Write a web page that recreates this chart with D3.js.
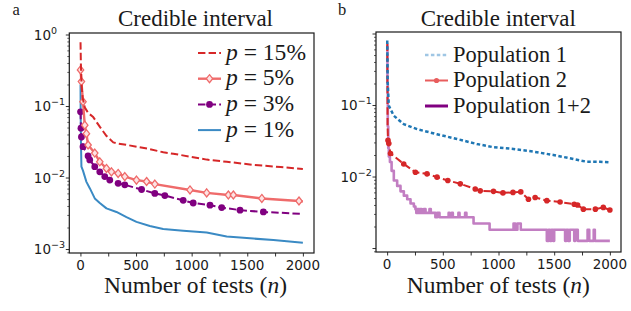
<!DOCTYPE html>
<html>
<head>
<meta charset="utf-8">
<script src="https://cdn.jsdelivr.net/npm/d3@7"></script>
<style>
	body { margin: 0; background: #fff; }
	svg { display: block; }
</style>
</head>
<body>
<div class="chart"></div>
<script>
// panel a: credible interval width for different prevalences p
const n15 = [1, 4, 10, 20, 40, 70, 115, 175, 235, 295, 330, 420, 505, 600, 745, 835, 985, 1135, 1315, 1560, 1800, 2000];
const v15 = [0.78, 0.4, 0.2, 0.13, 0.095, 0.08, 0.07, 0.051, 0.038, 0.031, 0.030, 0.0285, 0.027, 0.0255, 0.0225, 0.0215, 0.0196, 0.0178, 0.0166, 0.015, 0.014, 0.0132];

const n5 = [1, 9, 23, 39, 54, 69, 129, 174, 234, 279, 339, 399, 504, 595, 669, 985, 1135, 1330, 1375, 1631, 1965, 2000];
const v5 = [0.32, 0.22, 0.115, 0.054, 0.041, 0.0285, 0.022, 0.0166, 0.0134, 0.012, 0.0114, 0.0103, 0.0092, 0.0088, 0.0081, 0.0067, 0.0061, 0.0057, 0.0057, 0.0051, 0.0047, 0.0046];

const n3 = [1, 5, 9, 23, 69, 84, 129, 174, 219, 264, 339, 399, 550, 669, 759, 924, 1014, 1165, 1270, 1435, 1645, 2000];
const v3 = [0.083, 0.049, 0.037, 0.027, 0.020, 0.0176, 0.0142, 0.012, 0.0103, 0.0092, 0.0083, 0.0079, 0.0068, 0.006, 0.0056, 0.0048, 0.0044, 0.0041, 0.0038, 0.0035, 0.0033, 0.0031];

const n1 = [1, 2, 5, 9, 23, 54, 84, 129, 174, 234, 324, 414, 504, 624, 744, 924, 1135, 1315, 1555, 1735, 2000];
const v1 = [0.2, 0.08, 0.03, 0.0142, 0.0125, 0.0087, 0.0071, 0.0051, 0.0044, 0.0037, 0.0033, 0.0028, 0.0024, 0.0021, 0.0019, 0.0018, 0.0017, 0.0015, 0.0014, 0.00134, 0.00122];

// panel b: two populations and the pooled one
const nPop1 = [1, 5, 15, 59, 149, 269, 448, 627, 806, 955, 1134, 1314, 1493, 1672, 1792, 1912, 2000];
const vPop1 = [0.8, 0.2, 0.098, 0.071, 0.054, 0.046, 0.039, 0.0335, 0.0285, 0.0257, 0.0243, 0.0223, 0.020, 0.0176, 0.0161, 0.0161, 0.0158];

const nPop2 = [1, 4, 8, 15, 30, 149, 254, 358, 448, 545, 657, 791, 836, 955, 1040, 1130, 1200, 1269, 1329, 1434, 1553, 1680, 1710, 1762, 1870, 1941, 2000];
const vPop2 = [0.72, 0.05, 0.032, 0.029, 0.021, 0.015, 0.0115, 0.0109, 0.0098, 0.0088, 0.0079, 0.0067, 0.0063, 0.0062, 0.0059, 0.006, 0.0061, 0.0048, 0.0051, 0.0046, 0.0044, 0.0041, 0.004, 0.0035, 0.0035, 0.0037, 0.0034];

const nPop12 = [1, 3, 6, 10, 15, 25, 40, 60, 90, 120, 150, 180, 210, 240,
	254, 262, 270, 285, 295, 310, 330, 345, 380, 392, 433, 450, 470, 552, 560, 580, 590, 640, 650, 700, 712, 776,
	920, 1135, 1150, 1170, 1200, 1434, 1450, 1462, 1475, 1490, 1500,
	1598, 1610, 1625, 1640, 1680, 1690, 1712, 1800, 1815, 1855, 1865, 2000];
const vPop12 = [0.7, 0.2, 0.05, 0.025, 0.019, 0.016, 0.012, 0.0088, 0.0074, 0.0062, 0.0054, 0.0048, 0.0042, 0.0038,
	0.0035, 0.0031, 0.0035, 0.0031, 0.0035, 0.0031, 0.0035, 0.0031, 0.0035, 0.0031, 0.0027, 0.0031, 0.0027, 0.0031, 0.0027, 0.0031, 0.0027, 0.0031, 0.0027, 0.0031, 0.0027, 0.0022,
	0.0018, 0.0022, 0.0018, 0.0022, 0.0018, 0.00126, 0.0018, 0.00126, 0.0018, 0.00126, 0.0018,
	0.00126, 0.0018, 0.00126, 0.0018, 0.00126, 0.0018, 0.00126, 0.0018, 0.00126, 0.0018, 0.00126, 0.00126];

const xTicks = [0, 250, 500, 750, 1000, 1250, 1500, 1750, 2000];
const xLabelTicks = [0, 500, 1000, 1500, 2000];
const yExpA = [0, -1, -2, -3];
const yExpB = [-1, -2];
const legendA = ['15%', '5%', '3%', '1%'];
const legendB = ['Population 1', 'Population 2', 'Population 1+2'];

const w = 631;
const h = 311;
const serif = "Liberation Serif, DejaVu Serif, serif";
const sans = "DejaVu Sans, sans-serif";
const ink = '#1a1a1a';

const svg = d3.select('.chart').append('svg').attr('width', w).attr('height', h);

function zip(ns, vs) {
	return ns.map((n, i) => [n, vs[i]]);
}

// scale a serif text so its width matches what the figure shows
function fit(t, target) {
	let fs = parseFloat(t.attr('font-size'));
	let len = t.node().getComputedTextLength();
	if (len > 0) t.attr('font-size', (fs * target / len).toFixed(2) + 'px');
	return fs * target / len;
}

function diamond(g, x, y, col) {
	g.append('path')
		.attr('d', `M${x},${y - 4}L${x + 3.2},${y}L${x},${y + 4}L${x - 3.2},${y}Z`)
		.attr('fill', '#fde3e3')
		.attr('stroke', col)
		.attr('stroke-width', 1.3);
}

function dot(g, x, y, col, r) {
	g.append('circle').attr('cx', x).attr('cy', y).attr('r', r).attr('fill', col);
}

function panel(box, id) {
	const g = svg.append('g');
	const x = d3.scaleLinear().domain([-100, 2100]).range([box.left, box.right]);
	const y = d3.scaleLog().domain([8.8e-4, 1.05]).range([box.bottom, box.top]);

	g.append('clipPath').attr('id', 'clip' + id)
		.append('rect')
		.attr('x', box.left).attr('y', box.top)
		.attr('width', box.right - box.left).attr('height', box.bottom - box.top);

	// x axis
	const xa = g.append('g')
		.attr('transform', 'translate(0,' + box.bottom + ')')
		.call(d3.axisBottom(x).tickValues(xTicks).tickSize(3.5).tickSizeOuter(0).tickFormat(''));
	xa.select('.domain').remove();
	xa.selectAll('line').attr('stroke', ink).attr('stroke-width', 0.9);
	g.selectAll('.xl' + id)
		.data(xLabelTicks)
		.enter()
		.append('text')
		.attr('x', (d) => x(d))
		.attr('y', box.bottom + 17)
		.attr('text-anchor', 'middle')
		.attr('font-family', sans)
		.attr('font-size', '13.5px')
		.attr('fill', ink)
		.text((d) => d);

	// y axis: major + minor ticks
	let minor = [];
	for (let e = -4; e <= 0; e++) {
		for (let k = 2; k <= 9; k++) {
			let v = k * Math.pow(10, e);
			if (v >= 8.8e-4 && v <= 1.05) minor.push(v);
		}
	}
	let major = [1, 0.1, 0.01, 0.001];
	const ya = g.append('g')
		.attr('transform', 'translate(' + box.left + ',0)')
		.call(d3.axisLeft(y).tickValues(major).tickSize(3.5).tickSizeOuter(0).tickFormat(''));
	ya.select('.domain').remove();
	ya.selectAll('line').attr('stroke', ink).attr('stroke-width', 0.9);
	const ym = g.append('g')
		.attr('transform', 'translate(' + box.left + ',0)')
		.call(d3.axisLeft(y).tickValues(minor).tickSize(2).tickSizeOuter(0).tickFormat(''));
	ym.select('.domain').remove();
	ym.selectAll('line').attr('stroke', ink).attr('stroke-width', 0.7);

	box.exps.forEach((e) => {
		let t = g.append('text')
			.attr('x', box.left - 35.5)
			.attr('y', y(Math.pow(10, e)) + 5)
			.attr('font-family', sans)
			.attr('font-size', '13.5px')
			.attr('fill', ink);
		t.append('tspan').text('10');
		t.append('tspan')
			.attr('dy', -6)
			.attr('font-size', '9.5px')
			.text(e < 0 ? '\u2212' + -e : '' + e);
	});

	// frame
	g.append('rect')
		.attr('x', box.left).attr('y', box.top)
		.attr('width', box.right - box.left).attr('height', box.bottom - box.top)
		.attr('fill', 'none')
		.attr('stroke', ink)
		.attr('stroke-width', 1.2);

	// title, panel letter, x label
	let tt = g.append('text')
		.attr('x', box.titleX).attr('y', 26)
		.attr('text-anchor', 'middle')
		.attr('font-family', serif)
		.attr('font-size', '20px')
		.attr('fill', ink)
		.text('Credible interval');
	fit(tt, 155);
	g.append('text')
		.attr('x', box.letterX).attr('y', 15)
		.attr('font-family', serif)
		.attr('font-size', '16.5px')
		.attr('fill', ink)
		.text(box.letter);
	let xl = g.append('text')
		.attr('x', box.titleX).attr('y', 293)
		.attr('text-anchor', 'middle')
		.attr('font-family', serif)
		.attr('font-size', '20px')
		.attr('fill', ink);
	xl.append('tspan').text('Number of tests (');
	xl.append('tspan').attr('font-style', 'italic').text('n');
	xl.append('tspan').text(')');
	fit(xl, 183);

	return { g: g, x: x, y: y, clip: 'url(#clip' + id + ')' };
}

function series(p, ns, vs, st) {
	const pts = zip(ns, vs);
	const line = d3.line()
		.x((d) => p.x(d[0]))
		.y((d) => p.y(d[1]))
		.curve(st.step ? d3.curveStepAfter : d3.curveLinear);
	const layer = p.g.append('g').attr('clip-path', p.clip);
	layer.append('path')
		.datum(pts)
		.attr('d', line)
		.attr('fill', 'none')
		.attr('stroke', st.color)
		.attr('stroke-width', st.width)
		.attr('stroke-dasharray', st.dash || null)
		.attr('stroke-linejoin', 'round');
	if (st.marker) {
		pts.forEach((d, i) => {
			if (i < st.markFrom || i > pts.length - 1 - st.markSkipEnd) return;
			if (st.marker == 'diamond') diamond(layer, p.x(d[0]), p.y(d[1]), st.color);
			else dot(layer, p.x(d[0]), p.y(d[1]), st.color, st.r);
		});
	}
}

// legend text scaled so the widest entry matches the reference width
function legend(p, x0, y0, dy, items, widest, widestIdx) {
	let texts = [];
	items.forEach((it, i) => {
		let yy = y0 + i * dy;
		p.g.append('line')
			.attr('x1', x0).attr('x2', x0 + 23)
			.attr('y1', yy).attr('y2', yy)
			.attr('stroke', it.color)
			.attr('stroke-width', it.width)
			.attr('stroke-dasharray', it.dash || null);
		if (it.marker == 'diamond') diamond(p.g, x0 + 11.5, yy, it.color);
		if (it.marker == 'dot') dot(p.g, x0 + 11.5, yy, it.color, it.r);
		let t = p.g.append('text')
			.attr('x', x0 + 28).attr('y', yy + 6.5)
			.attr('font-family', serif)
			.attr('font-size', '20px')
			.attr('fill', ink);
		if (it.p) {
			t.append('tspan').attr('font-style', 'italic').text('p');
			t.append('tspan').text(' = ' + it.label);
		} else {
			t.text(it.label);
		}
		texts.push(t);
	});
	let fs = fit(texts[widestIdx], widest);
	texts.forEach((t) => t.attr('font-size', fs.toFixed(2) + 'px'));
}

// ---- panel a
const pa = panel({ left: 69.3, right: 314, top: 33, bottom: 253, letter: 'a', letterX: 12.5, titleX: 195.5, exps: yExpA }, 'a');

const stA = [
	{ color: '#d62728', width: 2, dash: '7.4,3.2' },
	{ color: '#ef6b6b', width: 2.4, marker: 'diamond', markFrom: 0, markSkipEnd: 1 },
	{ color: '#800080', width: 2, dash: '7.4,3.2', marker: 'dot', r: 3.4, markFrom: 0, markSkipEnd: 1 },
	{ color: '#3a8ac4', width: 2 }
];
series(pa, n1, v1, stA[3]);
series(pa, n3, v3, stA[2]);
series(pa, n5, v5, stA[1]);
series(pa, n15, v15, stA[0]);

legend(pa, 198, 53, 25.7, legendA.map((l, i) => Object.assign({ label: l, p: true }, stA[i])), 80, 0);

// ---- panel b
const pb = panel({ left: 376, right: 621, top: 32, bottom: 252, letter: 'b', letterX: 338, titleX: 498.3, exps: yExpB }, 'b');

series(pb, nPop12, vPop12, { color: '#c27ec2', width: 2.6, step: true });
series(pb, nPop2, vPop2, { color: '#d62728', width: 2, dash: '7.4,3.2', marker: 'dot', r: 2.8, markFrom: 2, markSkipEnd: 0 });
series(pb, nPop1, vPop1, { color: '#1f77b4', width: 2.5, dash: '3.5,2.4' });

legend(pb, 425, 55, 25.5, [
	{ label: legendB[0], color: '#9fc6e4', width: 2.5, dash: '3.5,2.4' },
	{ label: legendB[1], color: '#e85d5d', width: 2, marker: 'dot', r: 2.6 },
	{ label: legendB[2], color: '#800080', width: 3 }
], 138, 2);
</script>
</body>
</html>
